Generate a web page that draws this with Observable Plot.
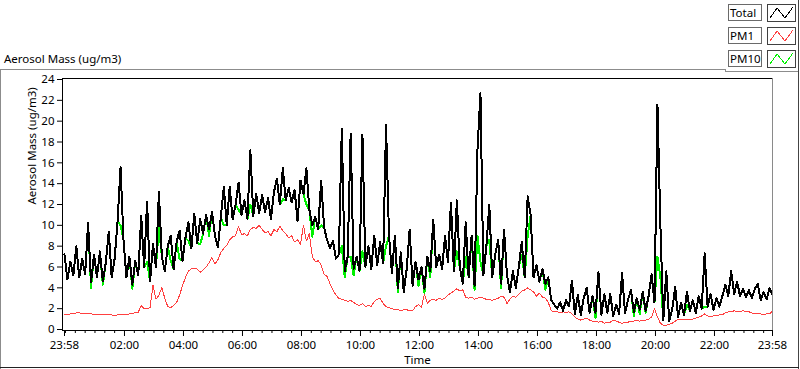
<!DOCTYPE html>
<html><head><meta charset="utf-8">
<script src="https://cdn.jsdelivr.net/npm/d3@7"></script>
<script src="https://cdn.jsdelivr.net/npm/@observablehq/plot@0.6"></script>
<style>
body{margin:0;background:#fff;overflow:hidden;font-family:"Noto Sans",sans-serif;}
#wrap{position:relative;width:800px;height:369px;}
#wrap svg{position:absolute;left:0;top:0;}
.ov{position:absolute;z-index:2;}
.title{left:4px;top:52px;font-size:11.5px;line-height:14px;color:#000;white-space:nowrap;}
.lab{left:728px;width:31px;height:15px;border:1px solid #6a6a6a;background:#fff;font-size:11.5px;line-height:15px;padding-left:1px;color:#000;white-space:nowrap;overflow:hidden;}
.sw{left:767px;width:27px;height:16px;border:1px solid #404040;background:#fff;}
.sw svg{position:absolute;left:0;top:0;}
.hl{height:0;border-top:1px solid;}
.vl{width:0;border-left:1px solid;}
</style></head><body>
<div id="wrap"></div>
<script>
// ---- data -------------------------------------------------------------
const startClock = "23:58";
const stepMinutes = 6;
const total = [
7.2,4.8,6.5,5.2,8.0,5.0,6.8,5.3,10.2,4.5,
7.2,5.0,7.5,4.6,6.4,9.4,5.0,6.8,10.4,15.6,
8.6,5.0,7.0,4.3,6.6,5.2,10.9,6.0,12.3,4.6,
8.2,6.0,13.2,7.0,5.6,8.0,9.0,5.8,8.4,9.5,
6.6,8.8,10.3,7.8,11.1,8.3,10.6,9.2,11.0,9.6,
11.3,9.0,7.9,10.8,13.7,10.0,13.7,10.6,12.0,14.1,
11.0,12.4,10.6,17.2,10.9,13.0,11.2,12.9,11.3,12.6,
10.6,13.2,14.5,12.0,15.5,12.4,13.6,12.2,13.4,10.4,
14.3,13.0,15.5,11.5,10.0,10.8,9.6,14.3,9.8,8.6,
7.8,8.5,6.8,7.2,19.3,5.6,7.0,18.8,5.8,7.0,
5.6,18.7,6.0,8.0,5.8,9.0,6.2,8.4,6.4,19.6,
9.0,5.4,9.0,4.0,7.4,3.6,5.8,9.6,4.2,6.5,
4.8,6.0,3.9,7.0,5.6,10.5,6.0,7.2,5.8,9.0,
6.5,12.2,5.6,12.4,6.0,4.4,10.3,5.0,9.0,4.2,
17.3,22.7,5.2,8.0,12.0,5.0,7.2,8.6,4.4,9.6,
5.2,3.6,5.6,4.0,6.0,8.4,5.0,12.8,11.0,5.0,
6.2,4.6,5.8,4.4,5.0,2.8,2.4,2.0,2.6,1.8,
2.8,2.2,4.7,1.5,3.3,1.4,3.0,4.0,1.6,3.2,
1.6,5.5,1.4,3.4,1.6,3.4,1.3,2.4,1.5,5.4,
1.6,2.8,3.8,1.7,3.0,1.9,3.6,1.8,3.2,5.3,
2.6,21.6,10.0,0.9,5.6,0.8,1.9,4.1,1.2,2.6,
1.4,3.6,1.8,2.8,1.6,3.2,2.0,7.3,2.2,3.4,
1.9,3.0,2.2,3.2,4.3,3.2,5.6,3.4,4.6,3.2,
3.9,3.1,3.8,3.0,3.9,4.4,2.8,3.6,2.9,4.0,
3.3];
const pm10 = [
7.2,4.8,6.5,5.2,8.0,5.0,6.8,5.3,10.2,4.0,
7.2,5.0,7.5,4.3,6.4,9.4,5.0,6.8,10.4,10.0,
8.6,5.0,7.0,3.9,6.6,5.2,10.9,6.0,6.5,4.6,
8.2,6.0,9.8,7.0,5.6,8.0,6.6,5.8,8.4,6.8,
6.6,8.8,8.5,7.8,11.1,8.3,8.2,9.2,11.0,9.0,
11.3,9.0,7.9,10.8,10.0,10.0,13.7,10.6,12.0,11.5,
11.0,12.4,10.6,12.0,10.9,13.0,11.2,12.9,11.3,12.6,
10.6,13.2,14.5,12.0,12.5,12.4,13.6,12.2,13.4,10.4,
14.3,13.0,12.0,11.5,8.9,10.8,9.6,10.0,9.8,8.6,
7.8,8.5,6.8,7.2,8.0,5.0,7.0,7.0,5.2,7.0,
5.6,7.5,6.0,8.0,5.8,9.0,6.2,8.4,6.4,8.0,
9.0,5.4,9.0,3.6,7.4,3.6,5.8,9.6,4.2,6.5,
4.2,6.0,3.5,7.0,5.0,10.5,6.0,7.2,5.8,9.0,
6.5,12.2,5.6,7.5,6.0,4.4,7.0,5.0,9.0,3.8,
9.0,6.5,5.2,8.0,8.6,5.0,7.2,8.6,4.0,9.6,
5.2,3.6,5.6,4.0,6.0,7.2,5.0,9.0,11.0,5.0,
6.2,4.6,5.8,3.8,5.0,2.8,2.4,2.0,2.6,1.8,
2.8,2.2,4.7,1.5,3.3,1.4,3.0,4.0,1.6,3.2,
1.1,5.5,1.4,3.4,1.6,3.4,1.3,2.4,1.5,5.4,
1.6,2.8,3.8,1.3,3.0,1.5,3.6,1.6,3.2,5.3,
2.6,7.0,5.0,0.9,5.6,0.8,1.9,4.1,1.2,2.6,
1.4,2.4,1.8,2.8,1.6,3.2,2.0,2.2,2.2,3.4,
1.9,3.0,2.2,3.2,4.3,3.2,5.6,3.4,4.6,3.2,
3.9,3.1,3.8,3.0,3.9,4.4,2.8,3.6,2.9,4.0,
3.3];
const pm1 = [
1.4,1.45,1.5,1.5,1.6,1.6,1.55,1.55,1.5,1.5,
1.45,1.45,1.4,1.45,1.4,1.4,1.4,1.35,1.4,1.4,
1.45,1.4,1.5,1.55,1.6,1.65,2.3,2.0,2.0,2.1,
4.25,2.9,3.3,4.0,3.0,2.2,2.1,2.3,2.6,3.3,
4.2,5.0,5.6,5.85,5.9,5.8,5.5,5.7,6.0,6.4,
6.9,6.3,6.7,7.4,7.8,8.1,8.6,8.9,9.0,9.9,
9.1,9.2,9.0,9.6,9.8,9.7,10.0,9.6,9.3,9.4,
9.0,9.6,9.4,9.9,9.5,9.2,8.8,9.0,8.4,8.6,
8.2,10.0,8.5,9.2,7.0,6.5,6.6,6.2,5.3,5.1,
4.4,3.8,3.3,3.0,2.9,2.8,2.7,2.8,2.6,2.4,
2.3,2.5,2.2,2.3,2.2,2.7,2.9,3.0,2.5,2.2,
2.1,2.0,1.9,1.9,1.8,1.9,1.9,1.8,1.8,2.2,
2.4,2.1,3.4,2.5,2.8,2.9,2.8,3.0,2.9,3.0,
3.3,3.5,3.7,3.9,3.7,3.8,3.1,3.0,3.1,2.9,
3.0,3.1,3.0,2.9,2.9,2.8,2.9,3.0,3.2,3.1,
2.5,2.9,3.2,3.1,3.4,3.7,3.8,4.0,3.8,3.6,
3.2,3.5,3.1,3.0,2.6,1.8,1.7,1.7,1.6,1.7,
1.6,1.7,1.5,1.2,1.0,0.9,1.0,1.1,0.9,0.8,
0.8,0.7,0.8,0.6,0.7,0.7,0.9,0.8,0.7,0.6,
0.7,0.7,0.8,0.8,0.9,0.8,0.9,0.9,1.0,1.2,
2.0,1.2,0.6,0.4,0.4,0.5,0.6,0.8,1.0,1.0,
0.9,1.0,1.0,1.0,1.1,1.2,1.3,1.5,1.3,1.2,
1.3,1.3,1.4,1.4,1.6,1.7,1.7,1.8,1.7,1.7,
1.8,1.7,1.7,1.6,1.5,1.5,1.5,1.4,1.5,1.5,
1.8];
const yTicks = [0,2,4,6,8,10,12,14,16,18,20,22,24];
const xTickLabels = ["23:58","02:00","04:00","06:00","08:00","10:00","12:00","14:00","16:00","18:00","20:00","22:00","23:58"];
const minorTickMinutes = 20;
const seriesNames = ["Total","PM1","PM10"];
const seriesColors = ["#000000","#ff4040","#00f000"];
const titleText = "Aerosol Mass (ug/m3)";
const yLabelText = "Aerosol Mass (ug/m3)";
const xLabelText = "Time";

// ---- build ------------------------------------------------------------
const [sh, sm] = startClock.split(":").map(Number);
const start = new Date(2000, 0, 1, sh, sm);
const timeAt = i => new Date(start.getTime() + i * stepMinutes * 60000);
const rows = total.map((v, i) => ({t: timeAt(i), total: v, pm10: pm10[i], pm1: pm1[i]}));
const end = timeAt(total.length - 1);

let day = 1, prev = -1;
const majorTicks = xTickLabels.map((lab, k) => {
  const [h, m] = lab.split(":").map(Number);
  const mins = h * 60 + m;
  if (k > 0 && mins <= prev) day++;
  prev = mins;
  return new Date(2000, 0, day, h, m);
});
const labelMap = new Map(majorTicks.map((d, k) => [+d, xTickLabels[k]]));
const majorSet = new Set(majorTicks.map(d => +d));
const minorTicks = d3.timeMinute.every(minorTickMinutes).range(start, end).filter(d => !majorSet.has(+d));

const chart = Plot.plot({
  width: 800, height: 369,
  marginTop: 78, marginBottom: 39, marginLeft: 62, marginRight: 28,
  style: "font-family:'Noto Sans',sans-serif;font-size:11.5px;color:#000;background:transparent;",
  x: {type: "time", domain: [start, end], insetLeft: 2},
  y: {domain: [0, 24], insetTop: 1, insetBottom: 1},
  marks: [
    Plot.line(rows, {x: "t", y: "pm10", stroke: seriesColors[2], strokeWidth: 2, shapeRendering: "crispEdges"}),
    Plot.line(rows, {x: "t", y: "pm1", stroke: seriesColors[1], strokeWidth: 1, shapeRendering: "crispEdges"}),
    Plot.line(rows, {x: "t", y: "total", stroke: seriesColors[0], strokeWidth: 2, shapeRendering: "crispEdges"}),
    Plot.ruleY([24], {dy: -1, stroke: "#000"}),
    Plot.ruleY([0], {dy: 1, stroke: "#000"}),
    Plot.ruleX([start], {dx: -2, stroke: "#000"}),
    Plot.ruleX([end], {stroke: "#8a8a8a"}),
    Plot.axisY(yTicks, {tickSize: 5, tickPadding: 3, label: null, stroke: "#000"}),
    Plot.axisX(majorTicks, {tickSize: 6, tickPadding: 4, label: null, tickFormat: d => labelMap.get(+d), stroke: "#000"}),
    Plot.axisX(minorTicks, {tickSize: 3, tickPadding: 0, label: null, tickFormat: () => "", stroke: "#000"}),
    Plot.text([yLabelText], {text: d => d, frameAnchor: "left", rotate: -90, dx: -30, fill: "#000"}),
    Plot.text([xLabelText], {text: d => d, frameAnchor: "bottom", dy: 33, fill: "#000"})
  ]
});
const wrap = document.getElementById("wrap");
wrap.appendChild(chart);

function addDiv(cls, css, html) {
  const d = document.createElement("div");
  d.className = "ov " + cls;
  Object.assign(d.style, css);
  if (html != null) d.textContent = html;
  wrap.appendChild(d);
  return d;
}
// frame decorations
addDiv("hl", {left: "0px", top: "69px", width: "725px", borderColor: "#8c8c8c"});
addDiv("vl", {left: "725px", top: "69px", height: "3px", borderColor: "#8c8c8c"});
addDiv("hl", {left: "725px", top: "71px", width: "73px", borderColor: "#8c8c8c"});
addDiv("vl", {left: "0px", top: "69px", height: "300px", borderColor: "#8c8c8c"});
addDiv("vl", {left: "798px", top: "0px", height: "369px", borderColor: "#444"});
addDiv("hl", {left: "0px", top: "367px", width: "799px", borderColor: "#222"});
// title
addDiv("title", {}, titleText);
// legend
const rowTops = [4, 27, 50];
seriesNames.forEach((name, k) => {
  addDiv("lab", {top: rowTops[k] + "px"}, name);
  const sw = addDiv("sw", {top: rowTops[k] + "px"});
  sw.innerHTML = `<svg width="27" height="16"><polyline points="2,13 9,3 17,13 25,2" fill="none" stroke="${seriesColors[k]}" stroke-width="1" shape-rendering="crispEdges"/></svg>`;
});
</script>
</body></html>
